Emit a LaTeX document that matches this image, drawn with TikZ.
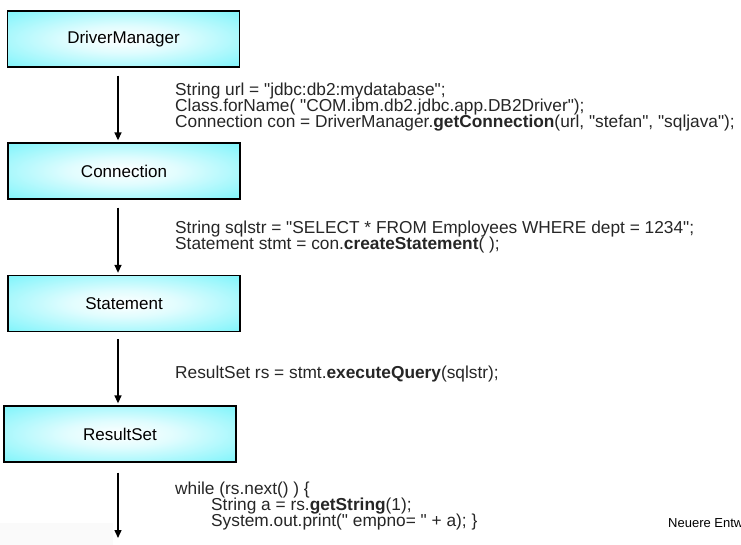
\documentclass[tikz,border=0pt]{standalone}
\usepackage{fontspec}
\setmainfont{Liberation Sans}
\newfontfamily\arialfam{Liberation Sans}
\usetikzlibrary{arrows.meta,calc}
\definecolor{boxcyan}{RGB}{100,242,250}
\pgfdeclareradialshading{boxshade}{\pgfpoint{0bp}{0bp}}{color(0bp)=(white);color(12bp)=(white!80!boxcyan);color(42bp)=(boxcyan);color(50bp)=(boxcyan)}
\tikzset{
  box/.style={draw=black, line width=1.3pt, shading=boxshade, minimum width=232pt,
    minimum height=56pt, inner sep=0pt, font=\arialfam\fontsize{17}{20}\selectfont},
  arr/.style={line width=1.4pt, -{Triangle[width=7pt,length=8pt]}},
  code/.style={anchor=base west, inner sep=0pt, text=black!85,
    font=\arialfam\fontsize{17.3}{20}\selectfont},
  foot/.style={anchor=base west, inner sep=0pt, font=\arialfam\fontsize{13}{15}\selectfont}
}
\begin{document}
\begin{tikzpicture}[x=1pt,y=-1pt]
\useasboundingbox (0,0) rectangle (741,545);
\clip (0,0) rectangle (741,545);
\fill[white] (0,0) rectangle (741,545);
\fill[gray!4] (0,523) rectangle (113,545);

\node[box] (dm)  at (123.5,39)  {DriverManager};
\node[box] (con) at (124,171)   {Connection};
\node[box] (st)  at (124,303.5) {Statement};
\node[box] (rs)  at (120,434)   {ResultSet};
\coordinate (ax) at (118,0);
\coordinate (end) at (118,538);

\draw[arr] ($(dm.south -| ax)+(0,8)$) -- ($(con.north -| ax)+(0,-2)$);
\draw[arr] ($(con.south -| ax)+(0,8)$) -- ($(st.north -| ax)+(0,-2)$);
\draw[arr] ($(st.south -| ax)+(0,7)$) -- ($(rs.north -| ax)+(0,-2)$);
\draw[arr] ($(rs.south -| ax)+(0,10)$) -- (end);

\node[code] (c1a) at (175,96)  {String url = "jdbc:db2:mydatabase";};
\node[code] (c1b) at (175,112) {Class.forName( "COM.ibm.db2.jdbc.app.DB2Driver");};
\node[code] (c1c) at (175,128) {Connection con = DriverManager.\textbf{getConnection}(url, "stefan", "sqljava");};
\node[code] (c2a) at (175,234) {String sqlstr = "SELECT * FROM Employees WHERE dept = 1234";};
\node[code] (c2b) at (175,250) {Statement stmt = con.\textbf{createStatement}( );};
\node[code] (c3)  at (175,378) {ResultSet rs = stmt.\textbf{executeQuery}(sqlstr);};
\node[code] (c4a) at (175,494) {while (rs.next() ) \{};
\node[code] (c4b) at (211,510) {String a = rs.\textbf{getString}(1);};
\node[code] (c4c) at (211,526) {System.out.print(" empno= " + a); \}};
\node[foot] (ft) at (668,527) {Neuere Entw};
\end{tikzpicture}
\end{document}
